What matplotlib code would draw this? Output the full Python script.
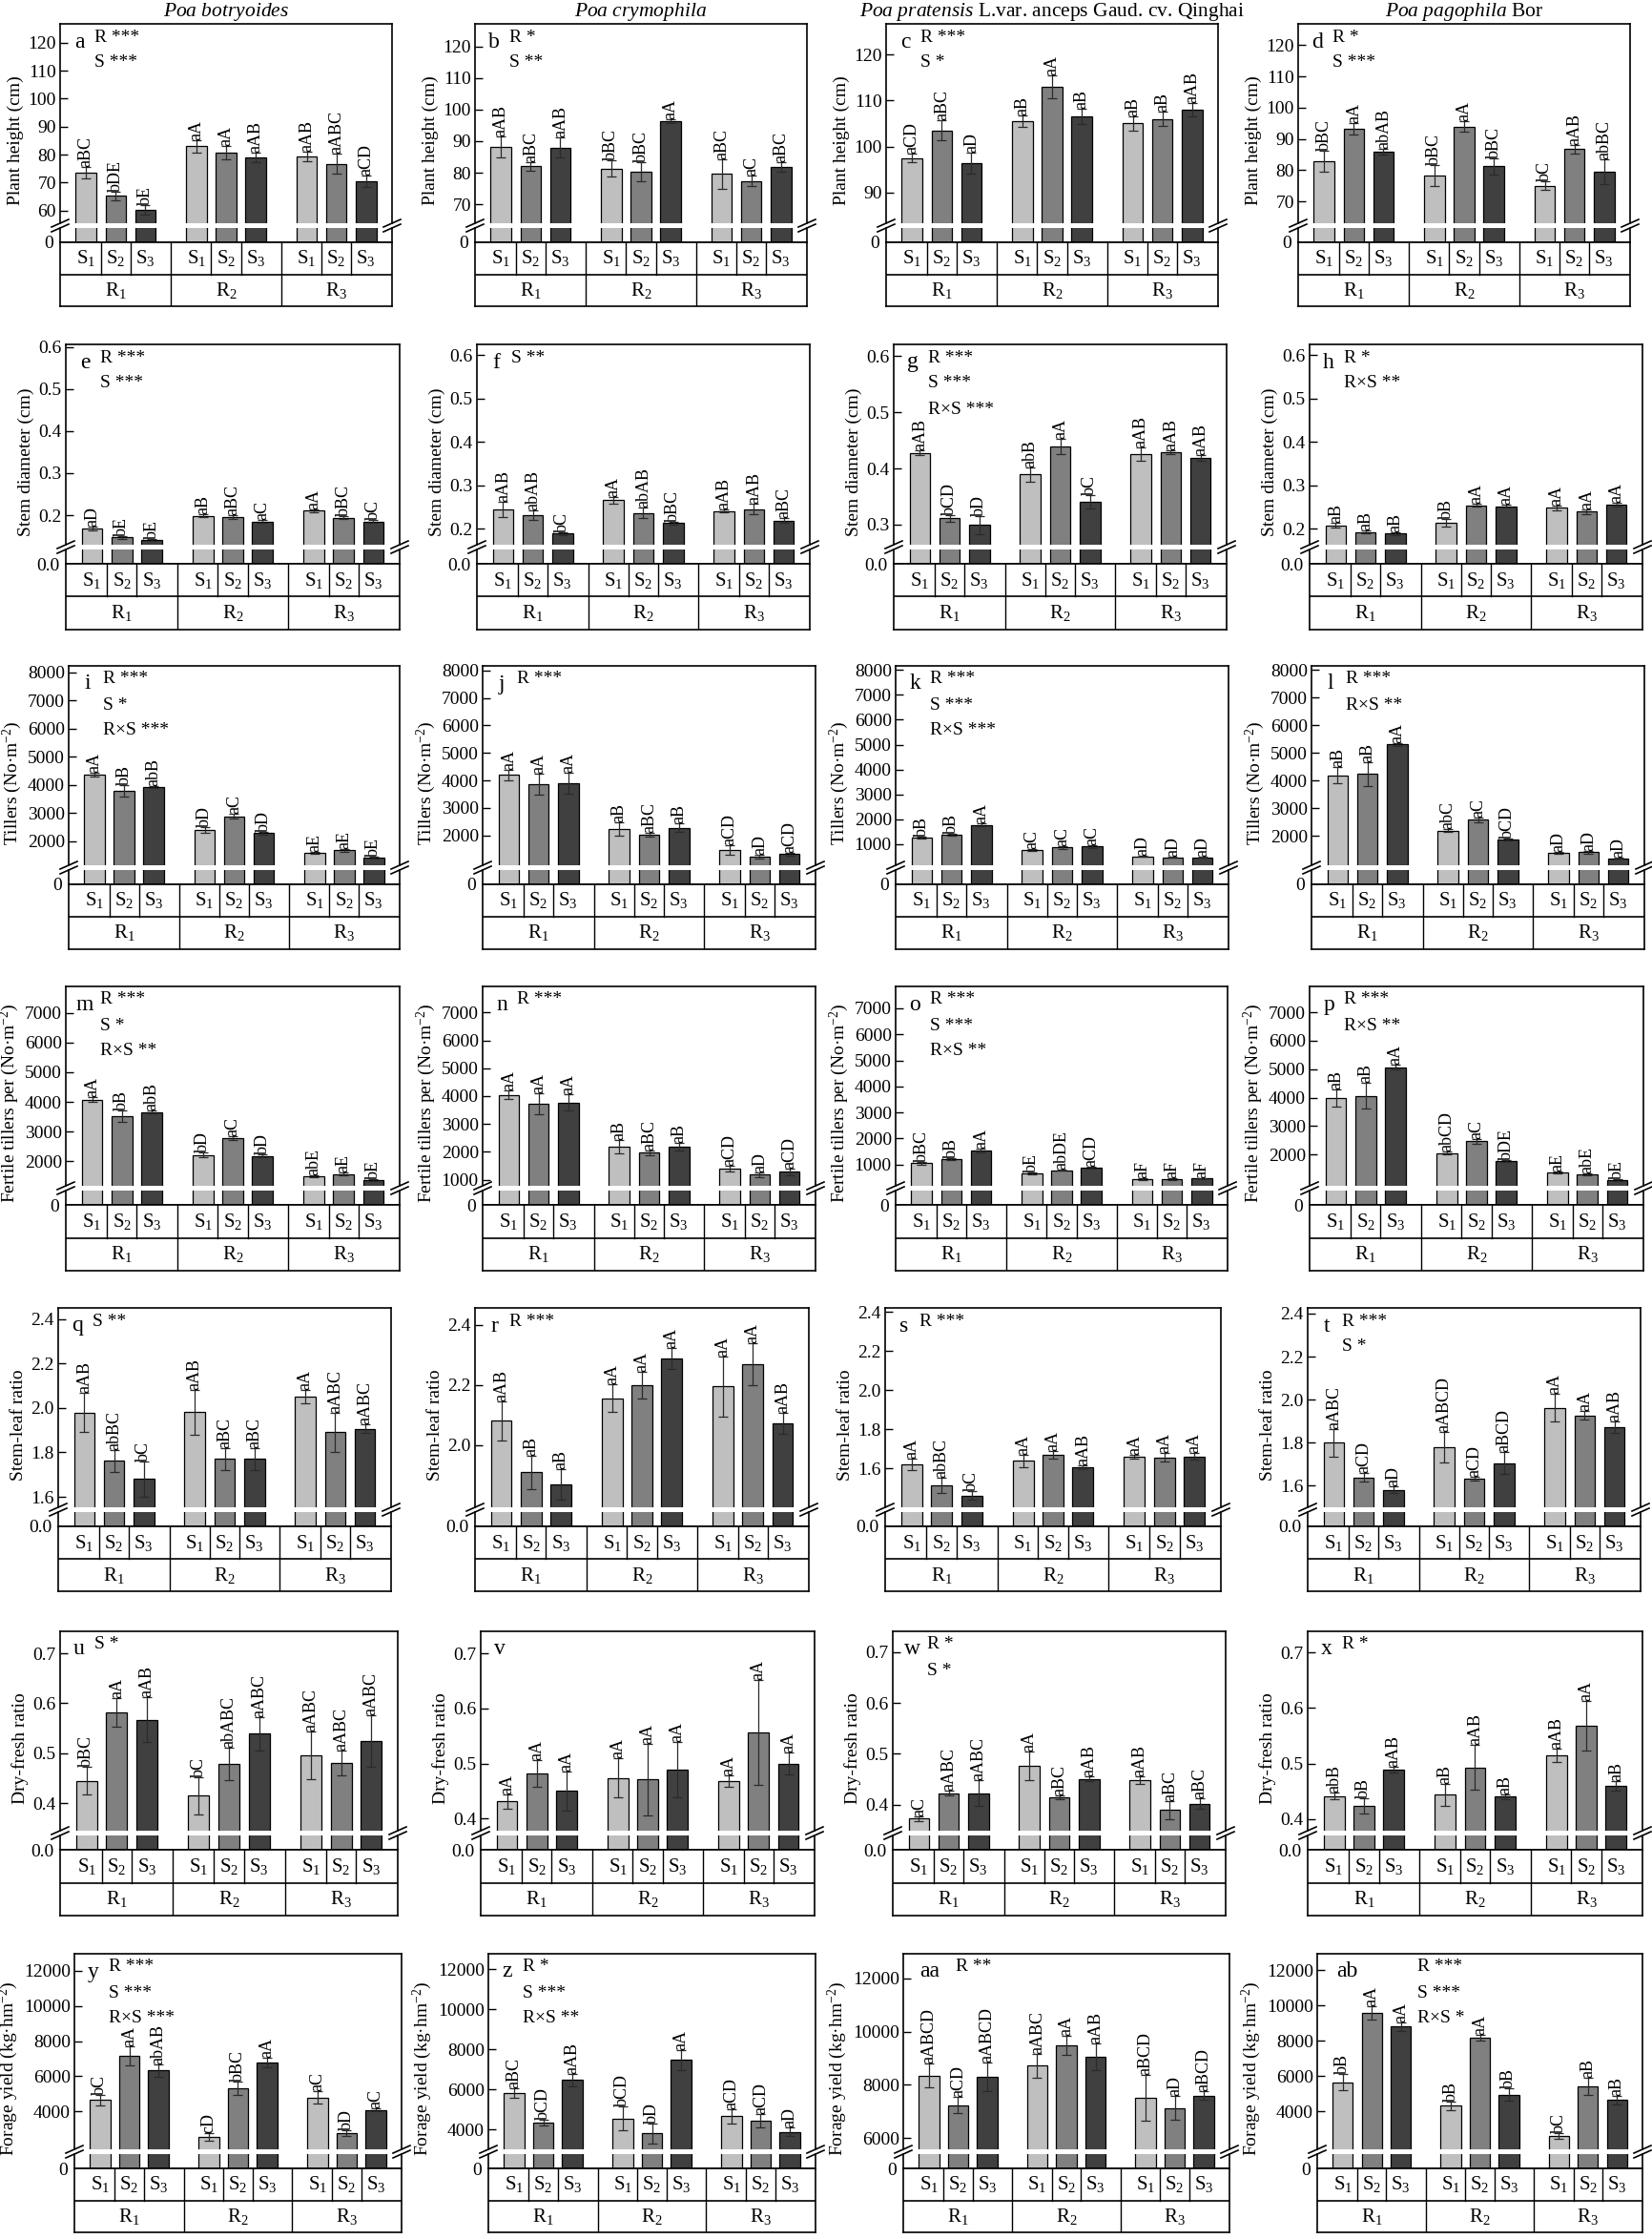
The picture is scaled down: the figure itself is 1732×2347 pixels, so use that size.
import numpy as np
import matplotlib
matplotlib.use("Agg")
import matplotlib.pyplot as plt
from matplotlib.lines import Line2D
from matplotlib.ticker import FormatStrFormatter

plt.rcParams['font.family'] = ['Liberation Serif', 'DejaVu Serif']
plt.rcParams['mathtext.fontset'] = 'custom'
plt.rcParams['mathtext.rm'] = 'Liberation Serif'
plt.rcParams['mathtext.it'] = 'Liberation Serif:italic'
plt.rcParams['mathtext.bf'] = 'Liberation Serif:bold'

# ---------------- data ----------------
species = [r"$\mathit{Poa\ botryoides}$",
           r"$\mathit{Poa\ crymophila}$",
           r"$\mathit{Poa\ pratensis}$ L.var. anceps Gaud. cv. Qinghai",
           r"$\mathit{Poa\ pagophila}$ Bor"]
s_levels = ["S$_1$", "S$_2$", "S$_3$"]
r_levels = ["R$_1$", "R$_2$", "R$_3$"]
row_labels = ["Plant height (cm)", "Stem diameter (cm)", "Tillers (No·m$^{-2}$)",
              "Fertile tillers per (No·m$^{-2}$)", "Stem-leaf ratio", "Dry-fresh ratio",
              "Forage yield (kg·hm$^{-2}$)"]
tags = ["a", "b", "c", "d", "e", "f", "g", "h", "i", "j", "k", "l", "m", "n",
        "o", "p", "q", "r", "s", "t", "u", "v", "w", "x", "y", "z", "aa", "ab"]

# order inside each list: R1S1 R1S2 R1S3 R2S1 ... R3S3
height_mean = [[73.5, 65.3, 60.3, 83.0, 80.7, 79.0, 79.3, 76.7, 70.6],
               [88.2, 82.0, 87.9, 81.3, 80.3, 96.4, 79.6, 77.4, 81.9],
               [97.5, 103.5, 96.4, 105.5, 113.0, 106.5, 105.0, 106.0, 108.0],
               [82.8, 93.2, 85.9, 78.2, 93.9, 81.2, 75.0, 86.7, 79.4]]
height_err = [[2.1, 1.5, 1.7, 2.3, 2.4, 1.7, 1.8, 3.5, 2.0],
              [3.4, 1.4, 3.2, 2.6, 3.1, 0.6, 4.6, 1.7, 1.5],
              [0.9, 2.2, 2.3, 1.2, 2.5, 1.7, 1.6, 1.6, 1.5],
              [3.3, 1.8, 1.0, 3.3, 1.7, 2.5, 1.4, 1.3, 4.0]]
height_let = [["aBC", "bDE", "bE", "aA", "aA", "aAB", "aAB", "aABC", "aCD"],
              ["aAB", "aBC", "aAB", "bBC", "bBC", "aA", "aBC", "aC", "aBC"],
              ["aCD", "aBC", "aD", "aB", "aA", "aB", "aB", "aB", "aAB"],
              ["bBC", "aA", "abAB", "bBC", "aA", "bBC", "bC", "aAB", "abBC"]]
height_stats = [["R ***", "S ***"], ["R *", "S **"], ["R ***", "S *"], ["R *", "S ***"]]

diam_mean = [[0.168, 0.147, 0.141, 0.199, 0.196, 0.185, 0.211, 0.194, 0.185],
             [0.245, 0.232, 0.189, 0.266, 0.236, 0.213, 0.241, 0.245, 0.219],
             [0.428, 0.311, 0.299, 0.389, 0.439, 0.341, 0.425, 0.429, 0.419],
             [0.208, 0.192, 0.189, 0.213, 0.254, 0.252, 0.248, 0.239, 0.255]]
diam_err = [[0.004, 0.004, 0.003, 0.003, 0.005, 0.003, 0.003, 0.003, 0.003],
            [0.018, 0.011, 0.003, 0.008, 0.012, 0.003, 0.004, 0.012, 0.005],
            [0.005, 0.006, 0.016, 0.013, 0.013, 0.012, 0.012, 0.004, 0.005],
            [0.006, 0.003, 0.003, 0.009, 0.003, 0.004, 0.005, 0.005, 0.004]]
diam_let = [["aD", "bE", "bE", "aB", "aBC", "aC", "aA", "bBC", "bC"],
            ["aAB", "abAB", "bC", "aA", "abAB", "bBC", "aAB", "aAB", "aBC"],
            ["aAB", "bCD", "bD", "abB", "aA", "bC", "aAB", "aAB", "aAB"],
            ["aB", "aB", "aB", "bB", "aA", "aA", "aA", "aA", "aA"]]
diam_stats = [["R ***", "S ***"], ["S **"], ["R ***", "S ***", "R×S ***"], ["R *", "R×S **"]]

till_mean = [[4348, 3772, 3927, 2388, 2875, 2277, 1579, 1668, 1413],
             [4196, 3869, 3892, 2236, 2034, 2270, 1471, 1223, 1313],
             [1249, 1374, 1772, 751, 863, 901, 502, 465, 465],
             [4186, 4242, 5306, 2191, 2583, 1877, 1383, 1406, 1193]]
till_err = [[70, 200, 30, 90, 80, 60, 25, 45, 40],
            [200, 380, 370, 250, 70, 150, 170, 60, 60],
            [40, 40, 60, 40, 40, 40, 20, 20, 20],
            [300, 430, 60, 60, 80, 40, 40, 50, 20]]
till_let = [["aA", "bB", "abB", "bD", "aC", "bD", "aE", "aE", "bE"],
            ["aA", "aA", "aA", "aB", "aBC", "aB", "aCD", "aD", "aCD"],
            ["bB", "bB", "aA", "aC", "aC", "aC", "aD", "aD", "aD"],
            ["aB", "aB", "aA", "abC", "aC", "bCD", "aD", "aD", "aD"]]
till_stats = [["R ***", "S *", "R×S ***"], ["R ***"], ["R ***", "S ***", "R×S ***"], ["R ***", "R×S **"]]

fert_mean = [[4074, 3516, 3653, 2211, 2779, 2179, 1495, 1568, 1358],
             [4040, 3736, 3770, 2182, 1968, 2182, 1405, 1180, 1282],
             [1048, 1204, 1540, 664, 784, 868, 448, 448, 460],
             [3978, 4066, 5077, 2055, 2473, 1780, 1363, 1308, 1099]]
fert_err = [[80, 200, 50, 80, 60, 50, 30, 50, 30],
            [150, 380, 280, 230, 80, 130, 100, 90, 120],
            [40, 40, 80, 30, 30, 40, 30, 30, 20],
            [300, 450, 80, 60, 80, 30, 30, 40, 40]]
fert_let = [["aA", "bB", "abB", "bD", "aC", "bD", "abE", "aE", "bE"],
            ["aA", "aA", "aA", "aB", "aBC", "aB", "aCD", "aD", "aCD"],
            ["bBC", "bB", "aA", "bE", "abDE", "aCD", "aF", "aF", "aF"],
            ["aB", "aB", "aA", "abCD", "aC", "bDE", "aE", "abE", "bE"]]
fert_stats = [["R ***", "S *", "R×S **"], ["R ***"], ["R ***", "S ***", "R×S **"], ["R ***", "R×S **"]]

slr_mean = [[1.980, 1.762, 1.681, 1.981, 1.770, 1.770, 2.051, 1.890, 1.906],
            [2.081, 1.909, 1.868, 2.156, 2.200, 2.288, 2.195, 2.268, 2.071],
            [1.621, 1.512, 1.461, 1.637, 1.669, 1.603, 1.659, 1.656, 1.661],
            [1.800, 1.639, 1.581, 1.778, 1.632, 1.705, 1.962, 1.927, 1.872]]
slr_err = [[0.09, 0.05, 0.08, 0.10, 0.05, 0.05, 0.03, 0.09, 0.02],
           [0.065, 0.055, 0.05, 0.045, 0.045, 0.035, 0.10, 0.07, 0.035],
           [0.03, 0.04, 0.02, 0.03, 0.02, 0.01, 0.01, 0.02, 0.015],
           [0.065, 0.02, 0.015, 0.07, 0.01, 0.05, 0.065, 0.02, 0.025]]
slr_let = [["aAB", "abBC", "bC", "aAB", "aBC", "aBC", "aA", "aABC", "aABC"],
           ["aAB", "aB", "aB", "aA", "aA", "aA", "aA", "aA", "aAB"],
           ["aA", "abBC", "bC", "aA", "aA", "aAB", "aA", "aA", "aA"],
           ["aABC", "aCD", "aD", "aABCD", "aCD", "aBCD", "aA", "aA", "aAB"]]
slr_stats = [["S **"], ["R ***"], ["R ***"], ["R ***", "S *"]]

dfr_mean = [[0.445, 0.582, 0.567, 0.415, 0.479, 0.539, 0.496, 0.480, 0.524],
            [0.431, 0.482, 0.450, 0.474, 0.471, 0.489, 0.468, 0.556, 0.500],
            [0.373, 0.423, 0.423, 0.477, 0.415, 0.451, 0.448, 0.390, 0.402],
            [0.441, 0.424, 0.489, 0.444, 0.493, 0.440, 0.515, 0.568, 0.460]]
dfr_err = [[0.027, 0.028, 0.045, 0.037, 0.033, 0.033, 0.047, 0.025, 0.052],
           [0.013, 0.025, 0.035, 0.035, 0.065, 0.05, 0.01, 0.095, 0.02],
           [0.005, 0.005, 0.025, 0.028, 0.004, 0.005, 0.008, 0.018, 0.01],
           [0.006, 0.014, 0.005, 0.02, 0.04, 0.005, 0.012, 0.045, 0.008]]
dfr_let = [["bBC", "aA", "aAB", "bC", "abABC", "aABC", "aABC", "aABC", "aABC"],
           ["aA", "aA", "aA", "aA", "aA", "aA", "aA", "aA", "aA"],
           ["aC", "aABC", "aABC", "aA", "aBC", "aAB", "aAB", "aBC", "aBC"],
           ["abB", "bB", "aAB", "aB", "aAB", "aB", "aAB", "aA", "aB"]]
dfr_stats = [["S *"], [], ["R *", "S *"], ["R *"]]

yield_mean = [[4647, 7149, 6344, 2547, 5312, 6782, 4787, 2775, 4087],
              [5815, 4338, 6462, 4538, 3800, 7462, 4646, 4431, 3877],
              [8351, 7228, 8293, 8722, 9486, 9046, 7514, 7131, 7595],
              [5651, 9583, 8800, 4306, 8170, 4928, 2604, 5413, 4630]]
yield_err = [[300, 550, 350, 200, 400, 250, 350, 150, 80],
             [250, 150, 300, 600, 500, 500, 350, 350, 200],
             [450, 300, 550, 450, 350, 500, 850, 450, 150],
             [450, 400, 250, 250, 150, 350, 150, 500, 250]]
yield_let = [["bC", "aA", "abAB", "cD", "bBC", "aA", "aC", "bD", "aC"],
             ["aBC", "bCD", "aAB", "bCD", "bD", "aA", "aCD", "aCD", "aD"],
             ["aABCD", "aCD", "aABCD", "aABC", "aA", "aAB", "aBCD", "aD", "aBCD"],
             ["bB", "aA", "aA", "bB", "aA", "bB", "bC", "aB", "aB"]]
yield_stats = [["R ***", "S ***", "R×S ***"], ["R *", "S ***", "R×S **"], ["R **"], ["R ***", "S ***", "R×S *"]]

means = [height_mean, diam_mean, till_mean, fert_mean, slr_mean, dfr_mean, yield_mean]
errs = [height_err, diam_err, till_err, fert_err, slr_err, dfr_err, yield_err]
letters = [height_let, diam_let, till_let, fert_let, slr_let, dfr_let, yield_let]
stats = [height_stats, diam_stats, till_stats, fert_stats, slr_stats, dfr_stats, yield_stats]

# axis ranges of the upper (broken) part and ticks
ylims = [[(55.5, 126.7), (64, 127.1), (83.3, 126.7), (63, 126.8)],
         [(0.13, 0.606), (0.163, 0.625), (0.264, 0.621), (0.163, 0.625)],
         [(1136, 8222), (908, 8169), (153, 8162), (935, 8146)],
         [(1179, 7884), (780, 7935), (184, 7840), (901, 7912)],
         [(1.553, 2.45), (1.792, 2.457), (1.40, 2.42), (1.50, 2.426)],
         [(0.345, 0.744), (0.378, 0.74), (0.349, 0.741), (0.379, 0.738)],
         [(1848, 12962), (3000, 12770), (5571, 12926), (1838, 12936)]]
yticks = [[np.arange(60, 121, 10), np.arange(70, 121, 10), np.arange(90, 121, 10), np.arange(70, 121, 10)],
          [np.arange(0.2, 0.61, 0.1), np.arange(0.2, 0.61, 0.1), np.arange(0.3, 0.61, 0.1), np.arange(0.2, 0.61, 0.1)],
          [np.arange(2000, 8001, 1000), np.arange(2000, 8001, 1000), np.arange(1000, 8001, 1000), np.arange(2000, 8001, 1000)],
          [np.arange(2000, 7001, 1000), np.arange(1000, 7001, 1000), np.arange(1000, 7001, 1000), np.arange(2000, 7001, 1000)],
          [np.arange(1.6, 2.41, 0.2), np.arange(2.0, 2.41, 0.2), np.arange(1.6, 2.41, 0.2), np.arange(1.6, 2.41, 0.2)],
          [np.arange(0.4, 0.71, 0.1)] * 4,
          [np.arange(4000, 12001, 2000), np.arange(4000, 12001, 2000), np.arange(6000, 12001, 2000), np.arange(4000, 12001, 2000)]]
fmts = ['%d', '%.1f', '%d', '%d', '%.1f', '%.1f', '%d']
zero_lab = ['0', '0.0', '0', '0', '0.0', '0.0', '0']

# ---------------- layout (pixels) ----------------
W, H = 1732, 2347
row_px = [(25, 254, 288, 321), (361, 591, 625, 660), (698, 927, 961, 995),
          (1034, 1263, 1297, 1332), (1371, 1600, 1634, 1668), (1710, 1939, 1974, 2008),
          (2048, 2273, 2307, 2340)]
col_px = [[(63, 411), (498, 846), (929, 1277), (1361, 1709)],
          [(69, 419), (500, 849), (937, 1286), (1373, 1722)],
          [(72, 419), (506, 855), (939, 1288), (1375, 1724)],
          [(69, 419), (506, 855), (939, 1287), (1373, 1723)],
          [(61, 410), (498, 848), (928, 1280), (1371, 1720)],
          [(63, 417), (504, 854), (936, 1285), (1371, 1722)],
          [(78, 421), (512, 855), (947, 1289), (1381, 1722)]]

bar_cols = ['#bfbfbf', '#808080', '#404040']
gstep = 3.72
xs = np.array([g * gstep + s for g in range(3) for s in range(3)])
xlim = (-0.88, 2 * gstep + 2 + 0.88)

fig = plt.figure(figsize=(W / 100, H / 100), dpi=100)


def add_ax(l, r, t, b):
    return fig.add_axes([l / W, 1 - b / H, (r - l) / W, (b - t) / H])


def line_px(x0, y0, x1, y1, lw=1.2):
    fig.add_artist(Line2D([x0 / W, x1 / W], [1 - y0 / H, 1 - y1 / H],
                          transform=fig.transFigure, color='black', lw=lw, clip_on=False))


for ri in range(7):
    t, z, sb, rb = row_px[ri]
    for ci in range(4):
        l, r = col_px[ri][ci]
        m = np.array(means[ri][ci], dtype=float)
        e = np.array(errs[ri][ci], dtype=float)
        tag = tags[ri * 4 + ci]
        lo, hi = ylims[ri][ci]

        up = add_ax(l, r, t, z - 20)
        dn = add_ax(l, r, z - 15, z)
        tb = add_ax(l, r, z, rb)

        for ax in (up, dn):
            ax.bar(xs, m, width=0.7, color=bar_cols * 3, edgecolor='black', linewidth=0.9, zorder=2)
            ax.set_xlim(*xlim)
            ax.set_xticks([])
            for sp in ax.spines.values():
                sp.set_linewidth(1.2)
        up.errorbar(xs, m, yerr=e, fmt='none', ecolor='#2a2a2a', elinewidth=0.9,
                    capsize=3.5, capthick=0.9, zorder=3)
        up.set_ylim(lo, hi)
        up.set_yticks(yticks[ri][ci])
        up.yaxis.set_major_formatter(FormatStrFormatter(fmts[ri]))
        up.tick_params(axis='y', direction='in', length=6, width=1, labelsize=14, pad=3)
        up.spines['bottom'].set_visible(False)

        # lower stub of the broken axis: every bar fills it
        dn.set_ylim(0, lo * 0.5)
        dn.set_yticks([0])
        dn.set_yticklabels([zero_lab[ri]])
        dn.tick_params(axis='y', direction='in', length=0, labelsize=14, pad=5)
        dn.spines['top'].set_visible(False)

        # letters above bars
        for xv, mv, ev, lab in zip(xs, m, e, letters[ri][ci]):
            up.text(xv, mv + ev, lab, rotation=90, ha='center', va='bottom', fontsize=13)

        # y label
        up.set_ylabel(row_labels[ri], fontsize=14, labelpad=3)
        ctr = (t + z) / 2 + 8
        up.yaxis.label.set_y(1 - (ctr - t) / (z - 20 - t))

        # panel letter and statistics
        lx, sx = 20, 36
        if tag == 'aa':
            lx, sx = 28, 55
        elif tag == 'ab':
            lx, sx = 31, 105
        fig.text((l + lx) / W, 1 - (t + 19) / H, tag, fontsize=17, ha='center', va='center')
        for k, s in enumerate(stats[ri][ci]):
            fig.text((l + sx) / W, 1 - (t + 14 + 27 * k) / H, s, fontsize=14, ha='left', va='center')

        # broken-axis marks
        for xm in (l, r):
            for ym in (z - 20, z - 15):
                line_px(xm - 9, ym + 4, xm + 9, ym - 4)

        # S / R table
        tb.set_xlim(*xlim)
        tb.set_ylim(0, 2)
        tb.set_xticks([])
        tb.set_yticks([])
        for sp in tb.spines.values():
            sp.set_linewidth(1.2)
        tb.plot(xlim, [1, 1], color='black', lw=1.2)
        for g in range(3):
            for b in (0.5, 1.5):
                tb.plot([g * gstep + b] * 2, [1, 2], color='black', lw=1.0)
            if g < 2:
                xb = (g * gstep + 2 + (g + 1) * gstep) / 2
                tb.plot([xb, xb], [0, 2], color='black', lw=1.0)
            tb.text(g * gstep + 1, 0.5, r_levels[g], ha='center', va='center', fontsize=15)
            for s in range(3):
                tb.text(g * gstep + s, 1.5, s_levels[s], ha='center', va='center', fontsize=15)

        if ri == 0:
            fig.text((l + r) / 2 / W, 1 - 13 / H, species[ci], fontsize=15.5, ha='center', va='center')

fig.savefig("out.png", dpi=100)
